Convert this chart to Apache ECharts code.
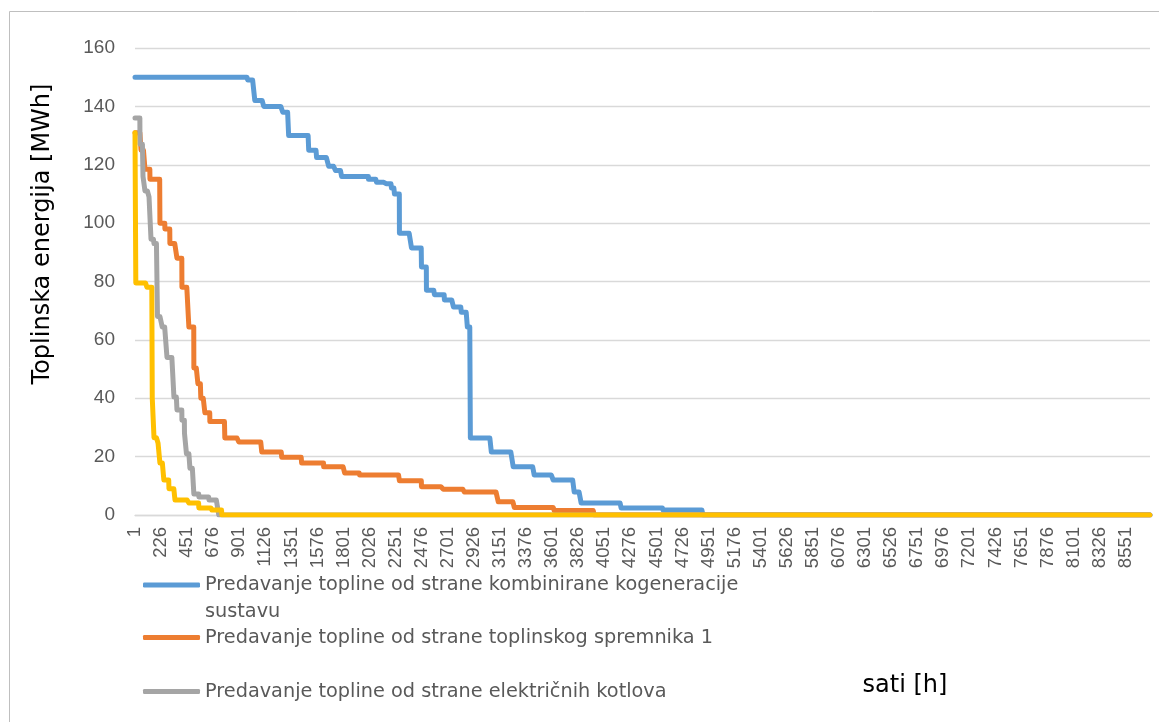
<!DOCTYPE html>
<html>
<head>
<meta charset="utf-8">
<title>Toplinska energija po satima</title>
<script src="https://cdn.jsdelivr.net/npm/echarts@6/dist/echarts.min.js"></script>
<style>
  html, body { margin: 0; padding: 0; background: #ffffff; }
  #chart { width: 1159px; height: 722px; }
</style>
</head>
<body>
<div id="chart"></div>
<script>
// Hours of the year, used as category labels 1 … 8760
const TOTAL_HOURS = 8760;
const hours = Array.from({ length: TOTAL_HOURS }, (_, i) => String(i + 1));

// Sorted (duration-curve) heat delivery, given as step start hour + level [MWh]
const startsKogeneracija = [1, 974, 1035, 1112, 1276, 1327, 1500, 1568, 1672, 1732, 1784, 2016, 2085, 2154, 2214, 2240, 2283, 2387, 2473, 2516, 2585, 2671, 2749, 2817, 2869, 2895, 3076, 3265, 3446, 3610, 3791, 3851, 4196, 4557, 4902];
const levelsKogeneracija = [150, 149, 142, 140, 138, 130, 125, 122.5, 119.5, 118, 116, 115, 114, 113.5, 112, 110, 96.5, 91.5, 85, 77, 75.5, 73.7, 71.3, 69.5, 64.4, 26.4, 21.6, 16.5, 13.7, 12, 7.9, 4.1, 2.4, 1.7, 0];

const startsSpremnik1 = [1, 53, 87, 130, 216, 259, 302, 363, 406, 466, 509, 544, 569, 604, 647, 776, 897, 1095, 1267, 1439, 1629, 1810, 1939, 2283, 2473, 2662, 2843, 3136, 3274, 3619, 3963];
const levelsSpremnik1 = [131, 125, 118.5, 115, 100, 98, 93, 88, 78, 64.4, 50.4, 45, 40, 35, 32, 26.4, 25, 21.6, 19.8, 17.8, 16.5, 14.4, 13.7, 11.7, 9.7, 8.8, 7.9, 4.5, 2.6, 1.5, 0];

const startsKotlovi = [1, 44, 70, 87, 122, 139, 165, 195, 236, 277, 337, 363, 406, 428, 445, 475, 509, 552, 640, 724];
const levelsKotlovi = [136, 127, 116, 111, 109, 94.5, 93, 68, 64.4, 54, 40.4, 36, 32.5, 28, 21, 16, 7.2, 6.2, 5.1, 0];

const startsSpremnik2 = [1, 8, 104, 150, 165, 200, 216, 250, 294, 346, 466, 552, 664, 750];
const levelsSpremnik2 = [131, 79.5, 78, 40, 26.5, 24.6, 17.8, 12, 9, 5.1, 4.1, 2.4, 1.7, 0];

const seriesNames = [
  'Predavanje topline od strane kombinirane kogeneracije sustavu',
  'Predavanje topline od strane toplinskog spremnika 1',
  'Predavanje topline od strane električnih kotlova',
  'Predavanje topline od strane toplinskog spremnika 2'
];
const seriesColors = ['#5b9bd5', '#ed7d31', '#a5a5a5', '#ffc000'];

// Expand step definitions into one value per hour
function expandSteps(starts, levels) {
  const out = new Array(TOTAL_HOURS);
  let k = 0;
  for (let h = 1; h <= TOTAL_HOURS; h++) {
    while (k + 1 < starts.length && h >= starts[k + 1]) k++;
    out[h - 1] = levels[k];
  }
  return out;
}

const seriesData = [
  expandSteps(startsKogeneracija, levelsKogeneracija),
  expandSteps(startsSpremnik1, levelsSpremnik1),
  expandSteps(startsKotlovi, levelsKotlovi),
  expandSteps(startsSpremnik2, levelsSpremnik2)
];

const FONT = 'Liberation Sans';
const WIDE_FONT = 'DejaVu Sans';
const chart = echarts.init(document.getElementById('chart'), null, { renderer: 'canvas' });

// One legend block per entry; the first entry wraps onto a second line,
// with its first line kept level with the colour key.
function legendFor(idx, top, wrapped) {
  return {
    show: true,
    orient: 'vertical',
    left: 143,
    top: top,
    padding: 0,
    data: [seriesNames[idx]],
    icon: 'roundRect',
    itemWidth: 57,
    itemHeight: 5,
    selectedMode: false,
    formatter: wrapped
      ? '\nPredavanje topline od strane kombinirane kogeneracije\nsustavu'
      : '{name}',
    textStyle: {
      color: '#595959',
      fontFamily: WIDE_FONT,
      fontSize: 19.3,
      lineHeight: 27
    }
  };
}

const option = {
  animation: false,
  backgroundColor: '#ffffff',
  textStyle: { fontFamily: FONT },
  grid: { left: 135, right: 9, top: 48, bottom: 207, containLabel: false },
  xAxis: {
    type: 'category',
    data: hours,
    boundaryGap: false,
    axisLine: { show: true, lineStyle: { color: '#d9d9d9', width: 1.3 } },
    axisTick: { show: false },
    splitLine: { show: false },
    axisLabel: {
      interval: 224,
      rotate: 90,
      color: '#595959',
      fontFamily: FONT,
      fontSize: 18.5,
      margin: 12
    }
  },
  yAxis: {
    type: 'value',
    min: 0,
    max: 160,
    interval: 20,
    axisLine: { show: false },
    axisTick: { show: false },
    splitLine: { lineStyle: { color: '#d9d9d9', width: 1.3 } },
    axisLabel: { color: '#595959', fontFamily: FONT, fontSize: 19, margin: 20 }
  },
  legend: [
    legendFor(0, 544.5, true),
    legendFor(1, 624, false),
    legendFor(2, 678, false)
  ],
  series: seriesData.map((d, i) => ({
    name: seriesNames[i],
    type: 'line',
    data: d,
    symbol: 'none',
    showSymbol: false,
    color: seriesColors[i],
    lineStyle: { color: seriesColors[i], width: 5, join: 'round', cap: 'round' },
    z: 2 + i
  })),
  graphic: [
    {
      type: 'rect',
      silent: true,
      shape: { x: 9.5, y: 11.5, width: 1300, height: 900 },
      style: { fill: 'none', stroke: '#bfbfbf', lineWidth: 1 }
    },
    {
      type: 'text',
      x: 43,
      y: 234,
      rotation: Math.PI / 2,
      style: {
        text: 'Toplinska energija [MWh]',
        fill: '#000000',
        font: '24px "' + WIDE_FONT + '"',
        align: 'center',
        verticalAlign: 'middle'
      }
    },
    {
      type: 'text',
      x: 905,
      y: 686,
      style: {
        text: 'sati [h]',
        fill: '#000000',
        font: '24px "' + WIDE_FONT + '"',
        align: 'center',
        verticalAlign: 'middle'
      }
    }
  ]
};

chart.setOption(option);
</script>
</body>
</html>
